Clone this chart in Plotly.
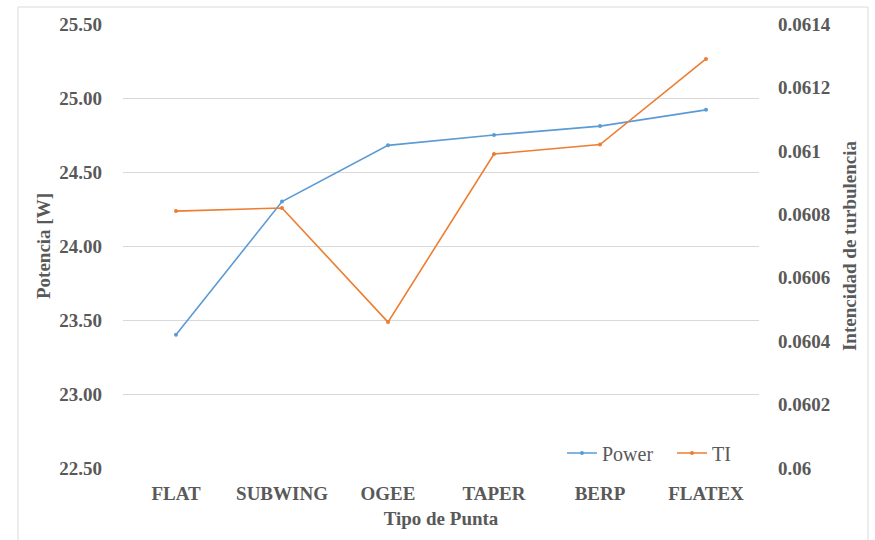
import plotly.graph_objects as go

# Tip types along the x axis
categories = ["FLAT", "SUBWING", "OGEE", "TAPER", "BERP", "FLATEX"]

# Power output [W] per tip type (left axis)
power = [23.40, 24.30, 24.68, 24.75, 24.81, 24.92]

# Turbulence intensity per tip type (right axis)
ti = [0.06081, 0.06082, 0.06046, 0.06099, 0.06102, 0.06129]

# Axis ticks
power_ticks = [22.5, 23.0, 23.5, 24.0, 24.5, 25.0, 25.5]
power_labels = ["22.50", "23.00", "23.50", "24.00", "24.50", "25.00", "25.50"]
ti_ticks = [0.06, 0.0602, 0.0604, 0.0606, 0.0608, 0.061, 0.0612, 0.0614]
ti_labels = ["0.06", "0.0602", "0.0604", "0.0606", "0.0608", "0.061", "0.0612", "0.0614"]

BLUE = "#5B9BD5"
ORANGE = "#ED7D31"
TEXT = "#595959"
GRID = "#D9D9D9"
FONT = "Liberation Serif"

W, H = 875, 540
L, R, T, B = 123, 116, 24, 72
pw, ph = W - L - R, H - T - B


def bold(labels):
    return [f"<b>{s}</b>" for s in labels]


fig = go.Figure()
fig.add_trace(go.Scatter(
    x=categories, y=power, name="Power", mode="lines+markers",
    line=dict(color=BLUE, width=1.6), marker=dict(size=4, color=BLUE),
))
fig.add_trace(go.Scatter(
    x=categories, y=ti, name="TI", mode="lines+markers", yaxis="y2",
    line=dict(color=ORANGE, width=1.6), marker=dict(size=4, color=ORANGE),
))

tick_font = dict(family=FONT, size=19, color=TEXT)
title_font = dict(family=FONT, size=19, color=TEXT)

fig.update_layout(
    width=W, height=H,
    margin=dict(l=L, r=R, t=T, b=B),
    font=dict(family=FONT, color=TEXT),
    paper_bgcolor="white", plot_bgcolor="white",
    xaxis=dict(
        type="category", range=[-0.5, 5.5],
        tickvals=categories, ticktext=bold(categories),
        showgrid=False, zeroline=False, showline=False,
        tickfont=tick_font, ticks="", ticklabelstandoff=12,
        title=dict(text="<b>Tipo de Punta</b>", font=title_font, standoff=8),
    ),
    yaxis=dict(
        range=[22.5, 25.5], tickvals=power_ticks, ticktext=bold(power_labels),
        showgrid=True, gridcolor=GRID, gridwidth=1, zeroline=False, showline=False,
        tickfont=tick_font, ticklabelstandoff=20,
        title=dict(text="<b>Potencia [W]</b>", font=title_font, standoff=3),
    ),
    yaxis2=dict(
        range=[0.06, 0.0614], tickvals=ti_ticks, ticktext=bold(ti_labels),
        overlaying="y", side="right", showgrid=False, zeroline=False, showline=False,
        tickfont=tick_font, ticklabelstandoff=18,
        title=dict(text="<b>Intencidad de turbulencia</b>", font=title_font, standoff=12),
    ),
    legend=dict(
        orientation="h", x=(562 - L) / pw, y=(H - B - 453) / ph,
        xanchor="left", yanchor="middle",
        font=dict(family=FONT, size=20, color=TEXT),
        bgcolor="rgba(0,0,0,0)", itemwidth=30, tracegroupgap=0,
        entrywidth=65, entrywidthmode="pixels",
    ),
    shapes=[dict(
        type="rect", xref="paper", yref="paper",
        x0=(18 - L) / pw, x1=(868 - L) / pw,
        y0=(H - B - 548) / ph, y1=(H - B - 7) / ph,
        line=dict(color=GRID, width=1), fillcolor="rgba(0,0,0,0)", layer="below",
    )],
)

fig.write_html("out.html")
